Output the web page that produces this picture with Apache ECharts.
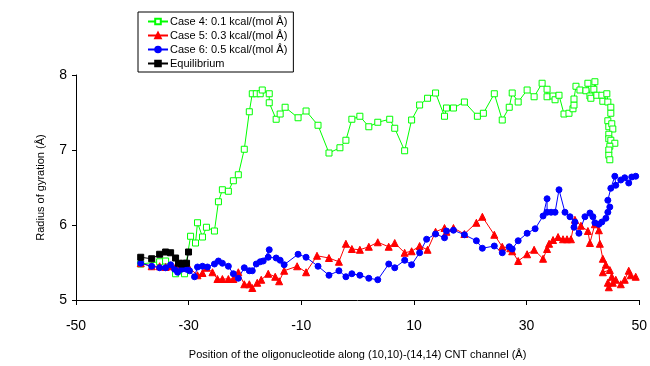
<!DOCTYPE html>
<html>
<head>
<meta charset="utf-8">
<script src="https://cdn.jsdelivr.net/npm/echarts@6/dist/echarts.min.js"></script>
<style>html,body{margin:0;padding:0;background:#fff;}#c{width:650px;height:366px;}</style>
</head>
<body>
<div id="c"></div>
<script>
const seriesNames = ['Case 4: 0.1 kcal/(mol Å)', 'Case 5: 0.3 kcal/(mol Å)', 'Case 6: 0.5 kcal/(mol Å)', 'Equilibrium'];
const xTicks = [-50, -30, -10, 10, 30, 50];
const yTicks = [5, 6, 7, 8];

const case4 = [[-38.51,5.48],[-35.15,5.51],[-34.09,5.52],[-32.32,5.35],[-30.73,5.35],[-29.66,5.85],[-28.78,5.76],[-28.43,6.03],[-27.54,5.84],[-26.84,5.97],[-25.42,5.92],[-24.71,6.31],[-24.01,6.47],[-22.95,6.45],[-22.06,6.59],[-21.18,6.67],[-20.12,7.01],[-19.23,7.51],[-18.70,7.75],[-17.99,7.75],[-17.29,7.75],[-16.93,7.80],[-15.69,7.75],[-15.69,7.63],[-14.46,7.41],[-13.75,7.48],[-12.87,7.57],[-10.57,7.43],[-9.15,7.52],[-7.03,7.33],[-5.08,6.96],[-3.14,7.03],[-2.08,7.13],[-1.02,7.41],[0.40,7.45],[1.99,7.31],[3.58,7.37],[5.70,7.41],[6.59,7.29],[8.35,6.99],[9.59,7.40],[11.01,7.60],[12.42,7.69],[13.84,7.76],[15.43,7.45],[15.78,7.56],[17.02,7.56],[18.96,7.64],[21.27,7.45],[22.33,7.49],[24.27,7.75],[25.68,7.40],[26.92,7.57],[27.45,7.76],[28.51,7.64],[30.10,7.80],[31.34,7.71],[32.76,7.89],[33.64,7.81],[33.64,7.71],[34.70,7.72],[35.06,7.67],[35.76,7.73],[36.65,7.48],[37.53,7.49],[38.24,7.55],[38.42,7.60],[38.42,7.68],[38.77,7.85],[39.48,7.80],[40.54,7.79],[40.89,7.89],[41.25,7.72],[41.42,7.69],[41.95,7.81],[42.13,7.91],[42.48,7.73],[43.37,7.73],[43.54,7.65],[44.25,7.75],[44.43,7.64],[44.96,7.57],[44.96,7.49],[44.43,7.39],[44.60,7.31],[45.13,7.35],[45.31,7.28],[44.60,7.21],[44.60,7.15],[44.96,7.13],[45.67,7.09],[44.78,7.05],[44.60,7.00],[44.60,6.93],[44.78,6.87]];

const case5 = [[-38.51,5.49],[-36.56,5.45],[-35.15,5.45],[-34.09,5.44],[-33.20,5.45],[-32.32,5.44],[-31.26,5.43],[-30.02,5.44],[-28.43,5.33],[-27.54,5.36],[-26.84,5.43],[-25.77,5.37],[-24.89,5.28],[-24.01,5.28],[-22.95,5.28],[-22.06,5.28],[-21.18,5.37],[-20.12,5.21],[-19.23,5.21],[-18.70,5.16],[-17.82,5.23],[-17.11,5.27],[-15.87,5.35],[-14.63,5.31],[-13.93,5.25],[-13.04,5.39],[-10.74,5.45],[-9.15,5.37],[-7.21,5.59],[-5.09,5.56],[-3.32,5.51],[-2.08,5.75],[-1.02,5.68],[0.40,5.67],[1.99,5.71],[3.58,5.77],[5.52,5.71],[6.59,5.76],[8.35,5.63],[9.59,5.65],[11.01,5.72],[12.42,5.67],[13.84,5.91],[15.43,5.96],[15.78,5.91],[17.02,5.96],[18.96,5.88],[21.09,6.03],[22.15,6.11],[24.27,5.87],[25.68,5.71],[27.10,5.69],[27.45,5.65],[28.51,5.52],[30.10,5.61],[31.34,5.67],[32.93,5.55],[33.64,5.68],[34.00,5.75],[34.70,5.80],[35.59,5.84],[36.47,5.81],[37.18,5.81],[37.88,5.81],[38.59,6.07],[39.65,5.99],[40.89,5.92],[41.25,5.76],[42.13,6.01],[42.84,5.93],[43.01,5.75],[43.54,5.55],[44.07,5.47],[43.54,5.37],[44.78,5.40],[45.13,5.31],[44.43,5.23],[44.60,5.17],[45.31,5.23],[45.84,5.27],[46.73,5.21],[47.43,5.27],[48.14,5.39],[48.49,5.33],[49.38,5.31]];

const case6 = [[-38.51,5.49],[-36.56,5.45],[-35.15,5.43],[-34.09,5.43],[-33.20,5.47],[-32.49,5.41],[-31.96,5.37],[-31.26,5.41],[-30.37,5.41],[-29.84,5.39],[-28.96,5.31],[-28.43,5.44],[-27.54,5.45],[-26.66,5.44],[-25.42,5.48],[-24.71,5.52],[-24.01,5.49],[-22.95,5.45],[-22.06,5.35],[-21.18,5.29],[-20.12,5.43],[-19.23,5.39],[-18.70,5.39],[-17.99,5.48],[-17.29,5.51],[-16.76,5.52],[-15.69,5.67],[-15.87,5.57],[-14.46,5.56],[-13.75,5.53],[-13.04,5.47],[-10.57,5.61],[-9.15,5.57],[-7.03,5.45],[-5.08,5.33],[-3.32,5.39],[-2.08,5.31],[-1.02,5.35],[0.40,5.33],[1.99,5.29],[3.58,5.27],[5.53,5.48],[6.59,5.43],[8.36,5.53],[9.59,5.47],[11.01,5.63],[12.25,5.81],[13.84,5.88],[15.43,5.83],[15.78,5.92],[17.02,5.93],[18.97,5.87],[21.09,5.79],[22.15,5.69],[24.27,5.72],[25.69,5.63],[26.92,5.71],[27.45,5.68],[28.51,5.79],[30.10,5.89],[31.52,5.95],[32.93,6.12],[33.64,6.35],[33.64,6.17],[34.35,6.17],[35.06,6.17],[35.76,6.47],[36.82,6.17],[37.71,6.11],[38.59,6.04],[38.42,5.97],[39.30,5.89],[40.36,6.11],[41.25,6.16],[41.78,6.11],[42.13,6.03],[42.84,6.01],[43.37,6.04],[44.08,6.09],[44.43,6.17],[44.78,6.24],[44.43,6.33],[44.96,6.49],[45.67,6.65],[45.84,6.53],[46.73,6.60],[47.43,6.63],[48.14,6.56],[48.67,6.64],[49.38,6.65]];

const equilibrium = [[-38.51,5.57],[-36.56,5.55],[-35.15,5.61],[-34.09,5.64],[-33.20,5.63],[-32.32,5.56],[-31.79,5.49],[-31.26,5.48],[-30.90,5.49],[-30.37,5.49],[-30.02,5.64]];

const FONT = 'Liberation Sans, Arial, sans-serif';
const chart = echarts.init(document.getElementById('c'), null, {renderer: 'canvas'});

function mk(name, data, color, symbol, fill) {
  return {
    name: name, type: 'line', data: data,
    symbol: symbol, symbolSize: symbol === 'triangle' ? 7 : 6,
    showAllSymbol: true,
    lineStyle: {color: color, width: 1},
    itemStyle: {color: fill, borderColor: color, borderWidth: 1},
    emphasis: {disabled: true},
    animation: false
  };
}

chart.setOption({
  animation: false,
  backgroundColor: '#fff',
  grid: {left: 76, right: 9, top: 75, bottom: 66, containLabel: false},
  legend: {
    orient: 'vertical', left: 138, top: 12,
    itemWidth: 20, itemHeight: 7, itemGap: 3,
    padding: [4, 6, 3, 9],
    borderColor: '#000', borderWidth: 1, backgroundColor: '#fff',
    textStyle: {fontFamily: FONT, fontSize: 11, color: '#000', padding: [0, 0, 0, -3]},
    data: seriesNames
  },
  xAxis: {
    type: 'value', min: -50, max: 50, interval: 20,
    name: 'Position of the oligonucleotide along (10,10)-(14,14) CNT channel (Å)',
    nameLocation: 'middle', nameGap: 49,
    nameTextStyle: {fontFamily: FONT, fontSize: 11, color: '#000'},
    axisLine: {onZero: false, lineStyle: {color: '#000', width: 1}},
    axisTick: {show: true, length: 5, lineStyle: {color: '#000'}},
    axisLabel: {fontFamily: FONT, fontSize: 14, color: '#000', margin: 19,
      formatter: v => xTicks.includes(v) ? String(v) : ''},
    splitLine: {show: false}
  },
  yAxis: {
    type: 'value', min: 5, max: 8, interval: 1,
    name: 'Radius of gyration (Å)',
    nameLocation: 'middle', nameGap: 30,
    nameTextStyle: {fontFamily: FONT, fontSize: 11, color: '#000'},
    axisLine: {show: true, onZero: false, lineStyle: {color: '#000', width: 1}},
    axisTick: {show: true, length: 4, lineStyle: {color: '#000'}},
    axisLabel: {fontFamily: FONT, fontSize: 14, color: '#000', margin: 9,
      formatter: v => yTicks.includes(v) ? String(v) : ''},
    splitLine: {show: false}
  },
  series: [
    mk(seriesNames[0], case4, '#00ff00', 'rect', '#ffffff'),
    mk(seriesNames[1], case5, '#ff0000', 'triangle', '#ff0000'),
    mk(seriesNames[2], case6, '#0000ff', 'circle', '#0000ff'),
    mk(seriesNames[3], equilibrium, '#000000', 'rect', '#000000')
  ]
});
</script>
</body>
</html>
